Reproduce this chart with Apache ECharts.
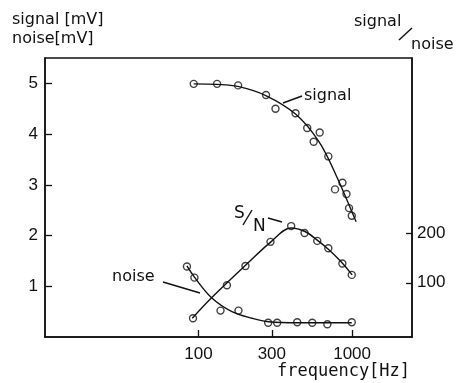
<!DOCTYPE html>
<html>
<head>
<meta charset="utf-8">
<script src="https://cdn.jsdelivr.net/npm/echarts@6/dist/echarts.min.js"></script>
<style>
html,body{margin:0;padding:0;background:#fff}
#chart{width:457px;height:383px}
</style>
</head>
<body>
<div id="chart"></div>
<script>
// measured points, frequency in Hz
var signalFreq = [93, 132, 181, 275, 317, 428, 510, 615, 562, 700, 865, 774, 919, 955, 995]
var signalVal = [4.99, 4.99, 4.96, 4.77, 4.50, 4.41, 4.12, 4.03, 3.85, 3.56, 3.04, 2.91, 2.82, 2.54, 2.39]

var noiseFreq = [84, 94, 139, 182, 284, 325, 439, 550, 690, 995]
var noiseVal = [1.39, 1.17, 0.52, 0.52, 0.28, 0.28, 0.29, 0.28, 0.25, 0.29]

var snFreq = [92, 153, 202, 294, 401, 490, 593, 700, 864, 995]
var snVal = [28, 95, 134, 183, 215, 201, 185, 170, 139, 116]

// hand drawn fit curves
var signalFitFreq = [93, 131, 180, 274, 430, 608, 786, 1062]
var signalFitVal = [4.99, 4.98, 4.94, 4.76, 4.39, 3.85, 3.19, 2.27]

var noiseFitFreq = [84, 94, 121, 165, 223, 286, 451, 995]
var noiseFitVal = [1.40, 1.18, 0.78, 0.50, 0.37, 0.30, 0.28, 0.28]

var snFitFreq = [91, 122, 203, 296, 399, 493, 590, 706, 845, 1000]
var snFitVal = [28, 70, 136, 183, 211, 204, 187, 167, 143, 116]

var freqTicks = [100, 300, 1000]
var leftTicks = [1, 2, 3, 4, 5]
var rightTicks = [100, 200]

function pairs(freq, vals){
    return freq.map(function(f, i){ return [Math.log10(f), vals[i]] })
}

var ink = '#111'
var numFont = '"Liberation Sans", Arial, sans-serif'
var txtFont = '"DejaVu Sans", sans-serif'

function fitLine(data, axis){
    return {
        type: 'line', data: data, yAxisIndex: axis,
        smooth: 0.35, symbol: 'none',
        lineStyle: {color: ink, width: 1.4}, z: 2
    }
}
function dots(data, axis){
    return {
        type: 'scatter', data: data, yAxisIndex: axis,
        symbol: 'circle', symbolSize: 7,
        itemStyle: {color: 'rgba(255,255,255,0)', borderColor: ink, borderWidth: 1.4}, z: 3
    }
}

function label(text, x, y, size, family){
    return {type: 'text', x: x, y: y, style: {text: text, fill: ink, font: (size || 16) + 'px ' + (family || txtFont), align: 'left', verticalAlign: 'middle'}}
}
function stroke(x1, y1, x2, y2){
    return {type: 'line', shape: {x1: x1, y1: y1, x2: x2, y2: y2}, style: {stroke: ink, lineWidth: 1.4}}
}

var option = {
    animation: false,
    backgroundColor: '#fff',
    grid: {left: 45, right: 45, top: 58, bottom: 46, show: true, borderColor: ink, borderWidth: 1.5},
    xAxis: {
        type: 'value', min: 1, max: 3.39,
        axisLine: {lineStyle: {color: ink, width: 1.5}},
        axisTick: {inside: true, length: 7, customValues: freqTicks.map(Math.log10), lineStyle: {color: ink, width: 1.3}},
        axisLabel: {
            customValues: freqTicks.map(Math.log10), margin: 9, color: ink, fontSize: 17, fontFamily: numFont,
            formatter: function(v){ return String(Math.round(Math.pow(10, v))) }
        },
        splitLine: {show: false}
    },
    yAxis: [
        {
            type: 'value', min: 0, max: 5.5, position: 'left',
            axisLine: {show: true, lineStyle: {color: ink, width: 1.5}},
            axisTick: {show: true, inside: true, length: 7, customValues: leftTicks, lineStyle: {color: ink, width: 1.3}},
            axisLabel: {customValues: leftTicks, margin: 7, color: ink, fontSize: 17, fontFamily: numFont},
            splitLine: {show: false}
        },
        {
            type: 'value', min: -10, max: 556, position: 'right',
            axisLine: {show: true, lineStyle: {color: ink, width: 1.5}},
            axisTick: {show: true, inside: true, length: 6, customValues: rightTicks, lineStyle: {color: ink, width: 1.3}},
            axisLabel: {customValues: rightTicks, margin: 5, color: ink, fontSize: 17, fontFamily: numFont},
            splitLine: {show: false}
        }
    ],
    series: [
        fitLine(pairs(signalFitFreq, signalFitVal), 0),
        dots(pairs(signalFreq, signalVal), 0),
        fitLine(pairs(noiseFitFreq, noiseFitVal), 0),
        dots(pairs(noiseFreq, noiseVal), 0),
        fitLine(pairs(snFitFreq, snFitVal), 1),
        dots(pairs(snFreq, snVal), 1)
    ],
    graphic: [
        label('signal [mV]', 12, 20),
        label('noise[mV]', 12, 39),
        label('signal', 354, 22),
        stroke(399, 40, 412, 28),
        label('noise', 411, 44.5),
        label('signal', 304, 96),
        stroke(283, 103, 302, 96),
        label('S', 234, 214, 17),
        stroke(243, 225, 252, 210),
        label('N', 253, 227, 17),
        stroke(268, 218, 282, 222),
        label('noise', 112, 276.5),
        stroke(163, 282, 200, 293),
        label('frequency[Hz]', 277, 372, 17, '"DejaVu Sans Mono", monospace')
    ]
}

var myChart = echarts.init(document.getElementById('chart'))
myChart.setOption(option)
</script>
</body>
</html>
